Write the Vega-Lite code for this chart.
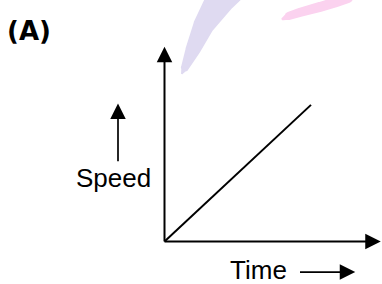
{
  "$schema": "https://vega.github.io/schema/vega-lite/v6.json",
  "width": 382,
  "height": 284,
  "autosize": {"type": "fit", "contains": "padding"},
  "padding": 0,
  "background": "white",
  "config": {"view": {"stroke": null}},
  "datasets": {
    "watermark": [
      {"stroke": "purple", "x": 182, "y": 210, "w": 2},
      {"stroke": "purple", "x": 185, "y": 216, "w": 8},
      {"stroke": "purple", "x": 193, "y": 234, "w": 15},
      {"stroke": "purple", "x": 204, "y": 259, "w": 21},
      {"stroke": "purple", "x": 220, "y": 284, "w": 29},
      {"stroke": "purple", "x": 228, "y": 294, "w": 32},
      {"stroke": "pink", "x": 283, "y": 265, "w": 3},
      {"stroke": "pink", "x": 289, "y": 268, "w": 8},
      {"stroke": "pink", "x": 300, "y": 271.5, "w": 9},
      {"stroke": "pink", "x": 320, "y": 277, "w": 10},
      {"stroke": "pink", "x": 335, "y": 281.5, "w": 10},
      {"stroke": "pink", "x": 348, "y": 286, "w": 10}
    ],
    "axes": [
      {"seg": "yaxis", "x": 164.5, "y": 40},
      {"seg": "yaxis", "x": 164.5, "y": 229},
      {"seg": "xaxis", "x": 164.5, "y": 40},
      {"seg": "xaxis", "x": 373, "y": 40},
      {"seg": "speed", "x": 164.5, "y": 40},
      {"seg": "speed", "x": 311, "y": 178}
    ],
    "labelArrows": [
      {"seg": "up", "x": 118, "y": 121},
      {"seg": "up", "x": 118, "y": 172},
      {"seg": "right", "x": 300, "y": 9},
      {"seg": "right", "x": 348, "y": 9}
    ],
    "heads": [
      {"dir": "up", "x": 164.5, "y": 229},
      {"dir": "right", "x": 373, "y": 40},
      {"dir": "up", "x": 118, "y": 171.5},
      {"dir": "right", "x": 347.5, "y": 9}
    ],
    "labels": [
      {"label": "Speed", "x": 113.5, "y": 95},
      {"label": "Time", "x": 258.5, "y": 2}
    ],
    "title": [
      {"label": "(A)", "x": 7, "y": 244}
    ]
  },
  "encoding": {
    "x": {"field": "x", "type": "quantitative", "scale": {"domain": [0, 382], "nice": false, "zero": false}, "axis": null},
    "y": {"field": "y", "type": "quantitative", "scale": {"domain": [0, 284], "nice": false, "zero": false}, "axis": null}
  },
  "layer": [
    {
      "data": {"name": "watermark"},
      "mark": {"type": "trail", "clip": true, "opacity": 1},
      "encoding": {
        "detail": {"field": "stroke"},
        "color": {"field": "stroke", "type": "nominal", "scale": {"domain": ["purple", "pink"], "range": ["#dfdaf1", "#fbd2ef"]}, "legend": null},
        "size": {"field": "w", "type": "quantitative", "scale": {"type": "linear", "domain": [0, 40], "range": [0, 40], "zero": true}, "legend": null},
        "order": {"field": "x"}
      }
    },
    {
      "data": {"name": "axes"},
      "mark": {"type": "line", "color": "black", "strokeWidth": 2, "strokeCap": "butt"},
      "encoding": {"detail": {"field": "seg"}}
    },
    {
      "data": {"name": "labelArrows"},
      "mark": {"type": "line", "color": "black", "strokeWidth": 1.7, "strokeCap": "butt"},
      "encoding": {"detail": {"field": "seg"}}
    },
    {
      "data": {"name": "heads"},
      "mark": {"type": "point", "filled": true, "color": "black", "opacity": 1, "size": 240},
      "encoding": {
        "shape": {"field": "dir", "type": "nominal", "scale": {"domain": ["up", "right"], "range": ["M0,-1L1,1L-1,1Z", "M1,0L-1,1L-1,-1Z"]}, "legend": null}
      }
    },
    {
      "data": {"name": "labels"},
      "mark": {"type": "text", "font": "Liberation Sans", "fontSize": 26, "align": "center", "baseline": "alphabetic", "color": "black"},
      "encoding": {"text": {"field": "label"}}
    },
    {
      "data": {"name": "title"},
      "mark": {"type": "text", "font": "DejaVu Sans", "fontWeight": "bold", "fontSize": 26, "align": "left", "baseline": "alphabetic", "color": "black"},
      "encoding": {"text": {"field": "label"}}
    }
  ]
}
